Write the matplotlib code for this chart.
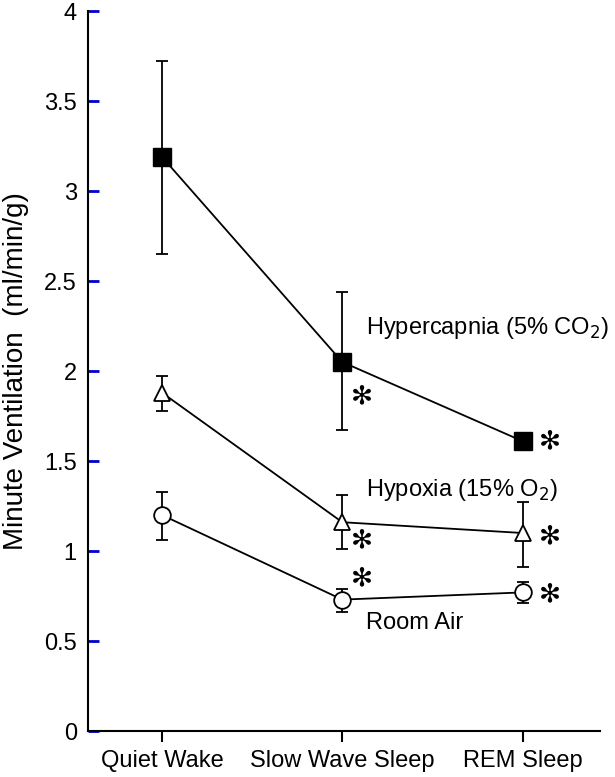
import matplotlib.pyplot as plt

plt.rcParams['font.family'] = ['Liberation Sans', 'DejaVu Sans']

conditions = ['Quiet Wake', 'Slow Wave Sleep', 'REM Sleep']
xpos = [0, 1, 2]

hypercapnia = [3.19, 2.05, 1.61]
hypercapnia_lo = [2.65, 1.67, 1.57]
hypercapnia_hi = [3.72, 2.44, 1.65]

hypoxia = [1.88, 1.16, 1.10]
hypoxia_lo = [1.78, 1.01, 0.91]
hypoxia_hi = [1.97, 1.31, 1.27]

room_air = [1.20, 0.73, 0.77]
room_air_lo = [1.06, 0.66, 0.71]
room_air_hi = [1.33, 0.79, 0.83]

# significance stars (x, y)
star_x = [1.11, 2.15, 1.11, 2.15, 1.11, 2.15]
star_y = [1.86, 1.61, 1.06, 1.08, 0.85, 0.76]

fig = plt.figure(figsize=(6.15, 7.77), dpi=100)
ax = fig.add_axes([0.143, 0.0592, 0.833, 0.9266])


def errs(v, lo, hi):
    return [[a - b for a, b in zip(v, lo)], [b - a for a, b in zip(v, hi)]]


ax.errorbar(xpos, hypercapnia, yerr=errs(hypercapnia, hypercapnia_lo, hypercapnia_hi),
            color='black', marker='s', markersize=13, mfc='black', mec='black',
            lw=1.3, elinewidth=1.3, capsize=4, capthick=1.3, zorder=3)
ax.errorbar(xpos, hypoxia, yerr=errs(hypoxia, hypoxia_lo, hypoxia_hi),
            color='black', marker='^', markersize=12, mfc='white', mec='black', mew=1.3,
            lw=1.3, elinewidth=1.3, capsize=4, capthick=1.3, zorder=3)
ax.errorbar(xpos, room_air, yerr=errs(room_air, room_air_lo, room_air_hi),
            color='black', marker='o', markersize=12, mfc='white', mec='black', mew=1.3,
            lw=1.3, elinewidth=1.3, capsize=4, capthick=1.3, zorder=3)

for sx, sy in zip(star_x, star_y):
    ax.text(sx, sy, '\u273b', fontsize=19, ha='center', va='center', family='DejaVu Sans')

ax.text(1.13, 2.24, 'Hypercapnia (5% CO$_2$)', fontsize=17, va='center')
ax.text(1.13, 1.34, 'Hypoxia (15% O$_2$)', fontsize=17, va='center')
ax.text(1.13, 0.60, 'Room Air', fontsize=17, va='center')

ax.set_xlim(-0.41, 2.43)
ax.set_ylim(0, 4)
ax.set_yticks([0, 0.5, 1, 1.5, 2, 2.5, 3, 3.5, 4])
ax.set_yticklabels(['0', '0.5', '1', '1.5', '2', '2.5', '3', '3.5', '4'])
ax.set_xticks(xpos)
ax.set_xticklabels(conditions)
ax.tick_params(axis='y', direction='in', length=8, width=2, color='#0000cc', labelsize=17, pad=8)
ax.tick_params(axis='x', direction='out', length=8, width=1.5, labelsize=17, pad=6)
ax.spines['top'].set_visible(False)
ax.spines['right'].set_visible(False)
ax.spines['left'].set_linewidth(1.5)
ax.spines['bottom'].set_linewidth(1.5)
ax.set_ylabel('Minute Ventilation  (ml/min/g)', fontsize=20)
ax.yaxis.set_label_coords(-0.115, 0.5)

fig.savefig('out.png', dpi=100)
